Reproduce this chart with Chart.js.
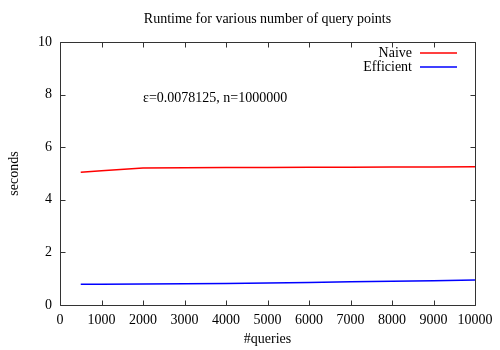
<!DOCTYPE html>
<html>
<head>
<meta charset="utf-8">
<script src="https://cdn.jsdelivr.net/npm/chart.js@4"></script>
<style>
html,body{margin:0;padding:0;background:#fff;}
#wrap{width:500px;height:350px;}
</style>
</head>
<body>
<div id="wrap"><canvas id="c" width="500" height="350"></canvas></div>
<script>
const queries = [500, 1000, 2000, 3000, 4000, 5000, 6000, 7000, 8000, 9000, 10000];
const naive = [5.05, 5.10, 5.21, 5.22, 5.23, 5.23, 5.24, 5.24, 5.25, 5.25, 5.26];
const efficient = [0.79, 0.79, 0.80, 0.81, 0.82, 0.84, 0.86, 0.88, 0.90, 0.92, 0.95];
const seriesNames = ["Naive", "Efficient"];
const titleText = "Runtime for various number of query points";
const xTitle = "#queries";
const yTitle = "seconds";
const noteText = "ε=0.0078125, n=1000000";
const notePos = [2000, 7.85];

const FONT = "'Liberation Serif','Times New Roman',serif";
const INK = "#000";
const FS = 14;

const frame = {
  id: 'frame',
  afterDatasetsDraw(chart) {
    const ctx = chart.ctx, a = chart.chartArea;
    const xs = chart.scales.x, ys = chart.scales.y;
    ctx.save();
    ctx.strokeStyle = '#333';
    ctx.lineWidth = 1;
    const L = Math.round(a.left) + 0.5, R = Math.round(a.right) + 0.5;
    const T = Math.round(a.top) + 0.5, B = Math.round(a.bottom) + 0.5;
    ctx.beginPath();
    ctx.rect(L, T, R - L, B - T);
    ctx.stroke();
    const tl = 5;
    ctx.beginPath();
    xs.ticks.forEach(t => {
      const px = Math.round(xs.getPixelForValue(t.value)) + 0.5;
      ctx.moveTo(px, B); ctx.lineTo(px, B - tl);
      ctx.moveTo(px, T); ctx.lineTo(px, T + tl);
    });
    ys.ticks.forEach(t => {
      const py = Math.round(ys.getPixelForValue(t.value)) + 0.5;
      ctx.moveTo(L, py); ctx.lineTo(L + tl, py);
      ctx.moveTo(R, py); ctx.lineTo(R - tl, py);
    });
    ctx.stroke();

    // annotation
    ctx.fillStyle = INK;
    ctx.font = FS + "px " + FONT;
    ctx.textAlign = 'left';
    ctx.textBaseline = 'middle';
    ctx.fillText(noteText, xs.getPixelForValue(notePos[0]), ys.getPixelForValue(notePos[1]));

    // legend (gnuplot style, top right inside)
    chart.data.datasets.forEach((ds, i) => {
      const y = a.top + 11 + i * 14;
      ctx.textAlign = 'right';
      ctx.fillStyle = INK;
      ctx.fillText(ds.label, a.right - 63, y);
      ctx.strokeStyle = ds.borderColor;
      ctx.lineWidth = 1.5;
      ctx.beginPath();
      ctx.moveTo(a.right - 55, y);
      ctx.lineTo(a.right - 18, y);
      ctx.stroke();
    });
    ctx.restore();
  }
};

new Chart(document.getElementById('c'), {
  type: 'line',
  data: {
    datasets: [
      { label: seriesNames[0], data: queries.map((q, i) => ({x: q, y: naive[i]})),
        borderColor: '#ff0000', borderWidth: 1.5, pointRadius: 0, tension: 0, fill: false },
      { label: seriesNames[1], data: queries.map((q, i) => ({x: q, y: efficient[i]})),
        borderColor: '#0000ff', borderWidth: 1.5, pointRadius: 0, tension: 0, fill: false }
    ]
  },
  options: {
    responsive: false,
    animation: false,
    devicePixelRatio: 1,
    layout: { padding: { top: 0, right: 25, left: 0, bottom: 0 } },
    plugins: {
      legend: { display: false },
      tooltip: { enabled: false },
      title: {
        display: true, text: titleText, color: INK, fullSize: false,
        font: { family: FONT, size: FS, weight: 'normal', lineHeight: 1.2 },
        padding: { top: 11, bottom: 14.2 }
      }
    },
    scales: {
      x: {
        type: 'linear', min: 0, max: 10000,
        afterFit: s => { s.height = 45; },
        grid: { display: false, drawTicks: false },
        border: { display: false },
        ticks: { stepSize: 1000, color: INK, padding: 7, maxRotation: 0, autoSkip: false,
                 font: { family: FONT, size: FS }, callback: v => String(v) },
        title: { display: true, text: xTitle, color: INK, font: { family: FONT, size: FS },
                 padding: { top: 0, bottom: 2 } }
      },
      y: {
        type: 'linear', min: 0, max: 10,
        afterFit: s => { s.width = 60; },
        grid: { display: false, drawTicks: false },
        border: { display: false },
        ticks: { stepSize: 2, color: INK, padding: 8, font: { family: FONT, size: FS } },
        title: { display: true, text: yTitle, color: INK, font: { family: FONT, size: FS },
                 padding: { top: 6, bottom: 0 } }
      }
    }
  },
  plugins: [frame]
});
</script>
</body>
</html>
